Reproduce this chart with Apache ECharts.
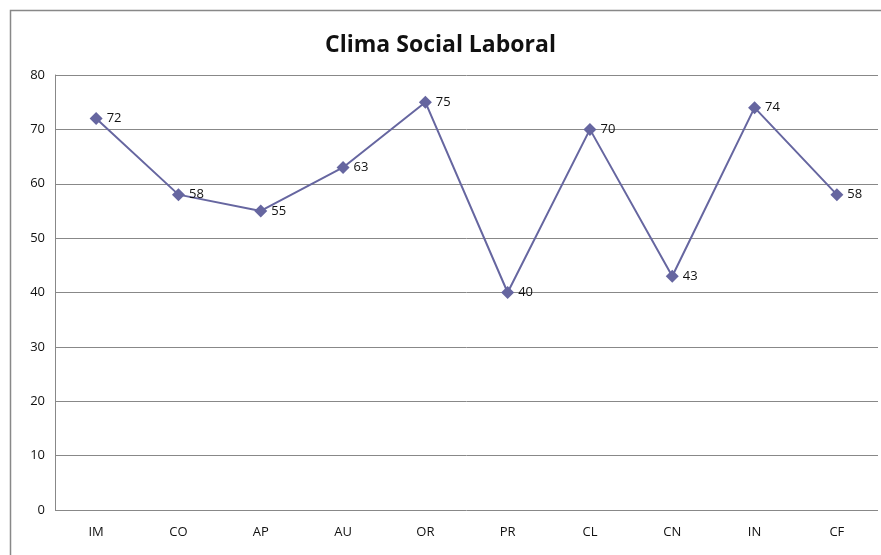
<!DOCTYPE html>
<html>
<head>
<meta charset="utf-8">
<script src="https://cdn.jsdelivr.net/npm/echarts@6/dist/echarts.min.js"></script>
<style>
  html, body { margin: 0; padding: 0; background: #fff; }
  #chart { width: 881px; height: 555px; }
</style>
</head>
<body>
<div id="chart"></div>
<script>
var categories = ['IM', 'CO', 'AP', 'AU', 'OR', 'PR', 'CL', 'CN', 'IN', 'CF'];
var values = [72, 58, 55, 63, 75, 40, 70, 43, 74, 58];
var chartTitle = 'Clima Social Laboral';

var myChart = echarts.init(document.getElementById('chart'));
var fontFam = '"Open Sans", "DejaVu Sans", sans-serif';

var option = {
  animation: false,
  title: {
    text: chartTitle,
    left: 'center',
    top: 29,
    textStyle: { fontFamily: fontFam, fontWeight: 'bold', fontSize: 23, color: '#111' }
  },
  graphic: [
    {
      type: 'rect',
      shape: { x: 10.5, y: 10.5, width: 900, height: 600 },
      style: { fill: 'none', stroke: '#888', lineWidth: 1.5 },
      silent: true
    }
  ],
  grid: { left: 55, right: 3, top: 75, bottom: 45 },
  xAxis: {
    type: 'category',
    data: categories,
    boundaryGap: true,
    axisLine: { show: false },
    axisTick: { show: false },
    axisLabel: { fontFamily: fontFam, fontSize: 13, color: '#111', margin: 16 }
  },
  yAxis: {
    type: 'value',
    min: 0,
    max: 80,
    interval: 10,
    axisLine: { show: true, lineStyle: { color: '#888', width: 1 } },
    axisTick: { show: false },
    axisLabel: { fontFamily: fontFam, fontSize: 13, color: '#111', margin: 10 },
    splitLine: { lineStyle: { color: '#888', width: 1 } }
  },
  series: [
    {
      type: 'line',
      data: values,
      symbol: 'diamond',
      symbolSize: 13,
      lineStyle: { color: '#6666a0', width: 2 },
      itemStyle: { color: '#6666a0' },
      label: {
        show: true,
        position: 'right',
        distance: 4,
        fontFamily: fontFam,
        fontSize: 13,
        color: '#111'
      }
    }
  ]
};

option && myChart.setOption(option);
</script>
</body>
</html>
